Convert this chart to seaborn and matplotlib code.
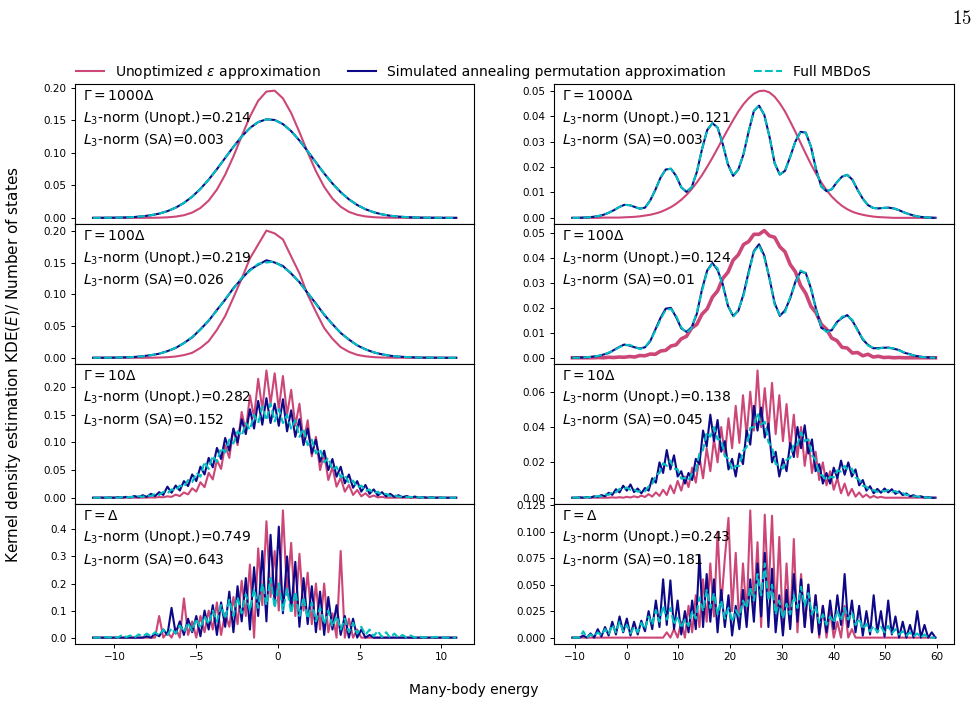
import numpy as np
import matplotlib
matplotlib.use("Agg")
import matplotlib.pyplot as plt
import matplotlib.ticker as mticker
from matplotlib.lines import Line2D
import seaborn as sns

COLOR_UNOPT = "#cc4778"
COLOR_SA = "#0d0887"
COLOR_FULL = "#00bfbf"

# ---------------------------------------------------------------------------
# Energy grids (left: symmetric spectrum, right: shifted spectrum)
# ---------------------------------------------------------------------------
ENERGY_LEFT_COARSE = np.linspace(-11.3, 10.9, 45)
ENERGY_LEFT_FINE = np.linspace(-11.3, 10.9, 89)
ENERGY_RIGHT_COARSE = np.linspace(-10.5, 59.7, 71)
ENERGY_RIGHT_FINE = np.linspace(-10.5, 59.7, 101)

# ---------------------------------------------------------------------------
# Left column, Gamma = 1000 Delta
# ---------------------------------------------------------------------------
unopt_g1000_left = [
    0, 0, 0, 0, 0, 0, 0, 0.0001, 0.0003, 0.0008, 0.0019, 0.0040, 0.0081, 0.0152, 0.0266,
    0.0436, 0.0665, 0.0947, 0.1258, 0.1559, 0.1803, 0.1945, 0.1959, 0.1840, 0.1614,
    0.1320, 0.1008, 0.0718, 0.0477, 0.0296, 0.0171, 0.0092, 0.0047, 0.0022, 0.0010,
    0.0004, 0.0002, 0.0001, 0, 0, 0, 0, 0, 0, 0]
sa_g1000_left = [
    0.0, 0.0001, 0.0002, 0.0004, 0.0007, 0.0013, 0.0024, 0.0040, 0.0065, 0.0103, 0.0157,
    0.0230, 0.0326, 0.0446, 0.0589, 0.0750, 0.0922, 0.1094, 0.1252, 0.1384, 0.1475,
    0.1517, 0.1507, 0.1444, 0.1335, 0.1191, 0.1026, 0.0853, 0.0684, 0.0529, 0.0395,
    0.0285, 0.0198, 0.0133, 0.0086, 0.0054, 0.0032, 0.0019, 0.0011, 0.0006, 0.0003,
    0.0002, 0.0001, 0.0, 0.0]
full_g1000_left = list(sa_g1000_left)  # curves coincide at this broadening

# Left column, Gamma = 100 Delta
unopt_g100_left = [
    0, 0, 0, 0, 0, 0, 0, 0.0001, 0.0004, 0.0009, 0.0020, 0.0042, 0.0078, 0.0155, 0.0262,
    0.0441, 0.0660, 0.0952, 0.1250, 0.1570, 0.1790, 0.2010, 0.1965, 0.1870, 0.1600,
    0.1335, 0.0995, 0.0725, 0.0470, 0.0300, 0.0168, 0.0094, 0.0046, 0.0023, 0.0010,
    0.0004, 0.0002, 0.0001, 0, 0, 0, 0, 0, 0, 0]
sa_g100_left = [
    0.0, 0.0001, 0.0002, 0.0004, 0.0008, 0.0013, 0.0025, 0.0041, 0.0064, 0.0105, 0.0155,
    0.0233, 0.0322, 0.0450, 0.0585, 0.0755, 0.0918, 0.1100, 0.1248, 0.1390, 0.1470,
    0.1540, 0.1505, 0.1450, 0.1330, 0.1195, 0.1022, 0.0857, 0.0680, 0.0532, 0.0392,
    0.0288, 0.0196, 0.0134, 0.0085, 0.0055, 0.0032, 0.0019, 0.0011, 0.0006, 0.0003,
    0.0002, 0.0001, 0.0, 0.0]
full_g100_left = [
    0.0, 0.0001, 0.0002, 0.0004, 0.0007, 0.0014, 0.0023, 0.0041, 0.0066, 0.0101, 0.0160,
    0.0228, 0.0330, 0.0442, 0.0594, 0.0745, 0.0930, 0.1088, 0.1262, 0.1375, 0.1485,
    0.1505, 0.1520, 0.1430, 0.1342, 0.1185, 0.1030, 0.0848, 0.0688, 0.0525, 0.0398,
    0.0282, 0.0200, 0.0131, 0.0087, 0.0053, 0.0033, 0.0018, 0.0011, 0.0006, 0.0003,
    0.0002, 0.0001, 0.0, 0.0]

# Left column, Gamma = 10 Delta
unopt_g10_left = [
    0, 0, 0, 0, 0, 0, 0, 0, 0, 0, 0, 0, 0,
    0.0002, 0.0005, 0.0003, 0.0012, 0.0008, 0.0025, 0.0015, 0.0055, 0.0030, 0.0095,
    0.0060, 0.0170, 0.0110, 0.0280, 0.0190, 0.0450, 0.0330, 0.0680, 0.0520, 0.0950,
    0.0720, 0.1250, 0.0950, 0.1550, 0.1200, 0.1850, 0.1450, 0.2150, 0.1600, 0.2300,
    0.1700, 0.2250, 0.1600, 0.2200, 0.1500, 0.1950, 0.1300, 0.1700, 0.1000, 0.1400,
    0.0750, 0.1100, 0.0500, 0.0800, 0.0320, 0.0550, 0.0200, 0.0360, 0.0110, 0.0230,
    0.0050, 0.0140, 0.0025, 0.0080, 0.0010, 0.0040, 0.0005, 0.0015,
    0, 0, 0, 0, 0, 0, 0, 0, 0, 0, 0, 0, 0, 0, 0, 0, 0, 0]
sa_g10_left = [
    0.0, 0.0, 0.0002, 0.0, 0.0005, 0.0, 0.0010, 0.0002, 0.0015, 0.0005, 0.0030, 0.0008,
    0.0045, 0.0015, 0.0070, 0.0030, 0.0100, 0.0050, 0.0200, 0.0090, 0.0220, 0.0130,
    0.0300, 0.0210, 0.0420, 0.0300, 0.0560, 0.0420, 0.0720, 0.0550, 0.0900, 0.0700,
    0.1080, 0.0850, 0.1250, 0.1000, 0.1420, 0.1150, 0.1600, 0.1250, 0.1750, 0.1320,
    0.1800, 0.1350, 0.1700, 0.1300, 0.1780, 0.1200, 0.1580, 0.1100, 0.1420, 0.0950,
    0.1250, 0.0800, 0.1050, 0.0650, 0.0850, 0.0500, 0.0700, 0.0380, 0.0560, 0.0260,
    0.0420, 0.0180, 0.0300, 0.0110, 0.0230, 0.0070, 0.0150, 0.0040, 0.0100, 0.0025,
    0.0070, 0.0015, 0.0045, 0.0010, 0.0030, 0.0005, 0.0020, 0.0002, 0.0010, 0.0,
    0.0008, 0.0, 0.0004, 0.0, 0.0, 0.0, 0.0]
full_g10_left = [
    0.0, 0.0, 0.0, 0.0003, 0.0, 0.0005, 0.0002, 0.0008, 0.0004, 0.0015, 0.0008, 0.0028,
    0.0015, 0.0045, 0.0030, 0.0070, 0.0050, 0.0105, 0.0080, 0.0150, 0.0130, 0.0220,
    0.0190, 0.0320, 0.0280, 0.0450, 0.0380, 0.0650, 0.0520, 0.0760, 0.0650, 0.0900,
    0.0820, 0.1050, 0.0980, 0.1200, 0.1120, 0.1350, 0.1230, 0.1500, 0.1350, 0.1650,
    0.1400, 0.1700, 0.1380, 0.1600, 0.1350, 0.1500, 0.1250, 0.1400, 0.1100, 0.1250,
    0.0950, 0.1050, 0.0800, 0.0880, 0.0640, 0.0720, 0.0500, 0.0560, 0.0370, 0.0420,
    0.0260, 0.0310, 0.0180, 0.0220, 0.0120, 0.0150, 0.0080, 0.0110, 0.0050, 0.0070,
    0.0030, 0.0045, 0.0018, 0.0025, 0.0010, 0.0014, 0.0006, 0.0008, 0.0003, 0.0004,
    0.0002, 0.0, 0.0001, 0.0, 0.0, 0.0, 0.0]

# Left column, Gamma = Delta
unopt_g1_left = [
    0, 0, 0, 0, 0, 0, 0, 0, 0, 0, 0, 0, 0, 0, 0,
    0.0, 0.0800, 0.0, 0.0200, 0.0, 0.0350, 0.0, 0.1450, 0.0100, 0.0600, 0.0, 0.0800,
    0.0200, 0.1000, 0.0300, 0.1300, 0.0100, 0.0900, 0.0400, 0.1500, 0.0500, 0.2100,
    0.0800, 0.2700, 0.0, 0.3300, 0.1200, 0.4300, 0.1500, 0.3200, 0.1000, 0.4700,
    0.1600, 0.3500, 0.0800, 0.3100, 0.1000, 0.2400, 0.0500, 0.2000, 0.0300, 0.2000,
    0.0200, 0.0900, 0.0, 0.3200, 0.0, 0.0700, 0.0, 0.0300,
    0, 0, 0, 0, 0, 0, 0, 0, 0, 0, 0, 0, 0, 0, 0, 0, 0, 0, 0, 0, 0, 0, 0, 0]
sa_g1_left = [
    0, 0, 0, 0, 0, 0, 0, 0, 0, 0, 0, 0,
    0.0, 0.0050, 0.0, 0.0150, 0.0050, 0.0300, 0.0100, 0.1100, 0.0150, 0.0600, 0.0100,
    0.0700, 0.0200, 0.0800, 0.0050, 0.1000, 0.0300, 0.1200, 0.0100, 0.1300, 0.0400,
    0.1700, 0.0200, 0.1900, 0.0600, 0.2200, 0.0300, 0.2600, 0.0800, 0.3200, 0.0600,
    0.3800, 0.1200, 0.4100, 0.0900, 0.3000, 0.1000, 0.2800, 0.0400, 0.2200, 0.0500,
    0.1900, 0.0200, 0.1700, 0.0100, 0.1500, 0.0300, 0.1200, 0.0100, 0.0800, 0.0,
    0.0700, 0.0, 0.0300, 0.0, 0.0100,
    0, 0, 0, 0, 0, 0, 0, 0, 0, 0, 0, 0, 0, 0, 0, 0, 0, 0, 0, 0, 0]
full_g1_left = [
    0.0, 0.0, 0.0, 0.0020, 0.0, 0.0050, 0.0, 0.0100, 0.0020, 0.0080, 0.0, 0.0120,
    0.0040, 0.0150, 0.0050, 0.0200, 0.0080, 0.0300, 0.0100, 0.0350, 0.0150, 0.0450,
    0.0200, 0.0550, 0.0250, 0.0700, 0.0350, 0.0800, 0.0500, 0.1000, 0.0600, 0.1200,
    0.0700, 0.1400, 0.0800, 0.1500, 0.0900, 0.1600, 0.1000, 0.1800, 0.1100, 0.2000,
    0.1200, 0.2200, 0.1100, 0.2000, 0.1000, 0.1800, 0.0900, 0.1700, 0.0800, 0.1500,
    0.0700, 0.1300, 0.0600, 0.1100, 0.0500, 0.1000, 0.0400, 0.0800, 0.0300, 0.0700,
    0.0200, 0.0550, 0.0150, 0.0400, 0.0100, 0.0300, 0.0050, 0.0250, 0.0020, 0.0200,
    0.0, 0.0150, 0.0, 0.0100, 0.0, 0.0080, 0.0, 0.0050, 0.0, 0.0020, 0.0, 0.0030,
    0.0, 0.0, 0.0, 0.0, 0.0]

# ---------------------------------------------------------------------------
# Right column, Gamma = 1000 Delta
# ---------------------------------------------------------------------------
unopt_g1000_right = [
    0.0, 0.0, 0.0, 0.0, 0.0, 0.0, 0.0001, 0.0001, 0.0001, 0.0001,
    0.0002, 0.0003, 0.0004, 0.0006, 0.0009, 0.0012, 0.0017, 0.0023, 0.0032, 0.0042,
    0.0055, 0.0071, 0.0090, 0.0113, 0.0139, 0.0168, 0.0201, 0.0236, 0.0273, 0.0311,
    0.0348, 0.0384, 0.0418, 0.0447, 0.0470, 0.0488, 0.0498, 0.0500, 0.0493, 0.0476,
    0.0450, 0.0418, 0.0379, 0.0338, 0.0295, 0.0252, 0.0211, 0.0173, 0.0139, 0.0109,
    0.0084, 0.0064, 0.0047, 0.0034, 0.0024, 0.0017, 0.0012, 0.0008, 0.0005, 0.0003,
    0.0002, 0.0001, 0, 0, 0, 0, 0, 0, 0, 0, 0]
sa_g1000_right = [
    0.0000, 0.0000, 0.0001, 0.0002, 0.0004, 0.0007, 0.0012, 0.0020, 0.0030, 0.0042,
    0.0051, 0.0050, 0.0043, 0.0036, 0.0040, 0.0068, 0.0110, 0.0158, 0.0190, 0.0193,
    0.0165, 0.0120, 0.0102, 0.0120, 0.0180, 0.0270, 0.0345, 0.0372, 0.0355, 0.0290,
    0.0210, 0.0165, 0.0190, 0.0250, 0.0340, 0.0420, 0.0441, 0.0405, 0.0320, 0.0215,
    0.0170, 0.0185, 0.0240, 0.0300, 0.0338, 0.0335, 0.0280, 0.0190, 0.0123, 0.0105,
    0.0112, 0.0140, 0.0162, 0.0169, 0.0150, 0.0110, 0.0075, 0.0050, 0.0039, 0.0037,
    0.0039, 0.0040, 0.0037, 0.0030, 0.0021, 0.0014, 0.0008, 0.0004, 0.0002, 0.0001,
    0.0000]
full_g1000_right = list(sa_g1000_right)

# Right column, Gamma = 100 Delta
unopt_g100_right = [
    0, 0, 0, 0, 0, 0.0001, 0.0, 0.0002, 0.0001, 0.0003,
    0.0002, 0.0005, 0.0003, 0.0009, 0.0008, 0.0015, 0.0014, 0.0027, 0.0030, 0.0047,
    0.0052, 0.0076, 0.0086, 0.0119, 0.0134, 0.0175, 0.0196, 0.0243, 0.0268, 0.0318,
    0.0343, 0.0391, 0.0413, 0.0454, 0.0466, 0.0495, 0.0495, 0.0510, 0.0489, 0.0483,
    0.0445, 0.0425, 0.0374, 0.0345, 0.0290, 0.0258, 0.0206, 0.0180, 0.0134, 0.0115,
    0.0079, 0.0069, 0.0042, 0.0039, 0.0019, 0.0021, 0.0008, 0.0014, 0.0003, 0.0006,
    0.0001, 0.0002, 0, 0.0001, 0, 0, 0, 0, 0, 0, 0]
sa_g100_right = [
    0.0000, 0.0001, 0.0001, 0.0002, 0.0005, 0.0007, 0.0013, 0.0019, 0.0031, 0.0043,
    0.0053, 0.0049, 0.0042, 0.0037, 0.0042, 0.0066, 0.0113, 0.0160, 0.0197, 0.0200,
    0.0163, 0.0118, 0.0104, 0.0122, 0.0176, 0.0275, 0.0350, 0.0380, 0.0352, 0.0295,
    0.0208, 0.0168, 0.0188, 0.0255, 0.0345, 0.0428, 0.0455, 0.0410, 0.0318, 0.0220,
    0.0168, 0.0190, 0.0238, 0.0305, 0.0345, 0.0340, 0.0278, 0.0195, 0.0120, 0.0108,
    0.0110, 0.0143, 0.0160, 0.0171, 0.0148, 0.0112, 0.0073, 0.0052, 0.0038, 0.0039,
    0.0040, 0.0041, 0.0036, 0.0031, 0.0020, 0.0015, 0.0008, 0.0005, 0.0002, 0.0001,
    0.0000]
full_g100_right = [
    0.0000, 0.0000, 0.0001, 0.0003, 0.0004, 0.0008, 0.0012, 0.0021, 0.0029, 0.0042,
    0.0050, 0.0052, 0.0044, 0.0035, 0.0041, 0.0070, 0.0108, 0.0155, 0.0192, 0.0196,
    0.0168, 0.0122, 0.0100, 0.0119, 0.0183, 0.0268, 0.0348, 0.0378, 0.0358, 0.0288,
    0.0212, 0.0163, 0.0193, 0.0248, 0.0338, 0.0425, 0.0450, 0.0402, 0.0322, 0.0213,
    0.0172, 0.0183, 0.0243, 0.0298, 0.0350, 0.0338, 0.0283, 0.0188, 0.0125, 0.0103,
    0.0114, 0.0138, 0.0165, 0.0168, 0.0152, 0.0108, 0.0077, 0.0049, 0.0040, 0.0036,
    0.0041, 0.0039, 0.0038, 0.0029, 0.0022, 0.0013, 0.0009, 0.0004, 0.0002, 0.0001,
    0.0000]

# Right column, Gamma = 10 Delta
unopt_g10_right = [
    0, 0, 0, 0, 0, 0, 0, 0, 0, 0, 0,
    0.0002, 0.0, 0.0003, 0.0, 0.0005, 0.0001, 0.0008, 0.0002, 0.0012, 0.0004, 0.0020,
    0.0006, 0.0030, 0.0010, 0.0045, 0.0015, 0.0070, 0.0025, 0.0095, 0.0040, 0.0120,
    0.0060, 0.0170, 0.0085, 0.0230, 0.0110, 0.0280, 0.0150, 0.0330, 0.0200, 0.0400,
    0.0240, 0.0450, 0.0280, 0.0520, 0.0310, 0.0580, 0.0350, 0.0600, 0.0380, 0.0720,
    0.0400, 0.0620, 0.0380, 0.0650, 0.0360, 0.0580, 0.0320, 0.0530, 0.0280, 0.0470,
    0.0230, 0.0400, 0.0180, 0.0330, 0.0140, 0.0260, 0.0100, 0.0200, 0.0070, 0.0150,
    0.0045, 0.0110, 0.0025, 0.0080, 0.0012, 0.0050, 0.0006, 0.0030, 0.0003, 0.0018,
    0.0, 0.0010, 0.0, 0.0005,
    0, 0, 0, 0, 0, 0, 0, 0, 0, 0, 0, 0, 0, 0, 0]
sa_g10_right = [
    0.0, 0.0, 0.0002, 0.0, 0.0004, 0.0001, 0.0008, 0.0004, 0.0015, 0.0008, 0.0028,
    0.0016, 0.0048, 0.0030, 0.0068, 0.0040, 0.0075, 0.0032, 0.0052, 0.0025, 0.0055,
    0.0040, 0.0110, 0.0085, 0.0200, 0.0140, 0.0270, 0.0160, 0.0240, 0.0120, 0.0150,
    0.0080, 0.0140, 0.0100, 0.0220, 0.0190, 0.0380, 0.0290, 0.0470, 0.0320, 0.0440,
    0.0260, 0.0320, 0.0160, 0.0220, 0.0120, 0.0250, 0.0190, 0.0380, 0.0300, 0.0520,
    0.0380, 0.0510, 0.0340, 0.0420, 0.0200, 0.0260, 0.0120, 0.0220, 0.0150, 0.0310,
    0.0230, 0.0400, 0.0280, 0.0410, 0.0250, 0.0330, 0.0150, 0.0190, 0.0080, 0.0140,
    0.0080, 0.0170, 0.0110, 0.0210, 0.0130, 0.0200, 0.0120, 0.0160, 0.0070, 0.0100,
    0.0040, 0.0065, 0.0025, 0.0050, 0.0028, 0.0052, 0.0030, 0.0048, 0.0022, 0.0036,
    0.0015, 0.0024, 0.0008, 0.0014, 0.0004, 0.0008, 0.0001, 0.0003, 0.0, 0.0]
full_g10_right = [
    0.0, 0.0001, 0.0, 0.0002, 0.0002, 0.0004, 0.0004, 0.0009, 0.0008, 0.0018, 0.0016,
    0.0032, 0.0030, 0.0050, 0.0046, 0.0058, 0.0044, 0.0048, 0.0034, 0.0040, 0.0036,
    0.0064, 0.0078, 0.0128, 0.0140, 0.0195, 0.0180, 0.0210, 0.0165, 0.0160, 0.0108,
    0.0112, 0.0098, 0.0138, 0.0150, 0.0250, 0.0270, 0.0370, 0.0345, 0.0400, 0.0330,
    0.0330, 0.0235, 0.0220, 0.0155, 0.0180, 0.0180, 0.0265, 0.0285, 0.0395, 0.0400,
    0.0480, 0.0415, 0.0430, 0.0315, 0.0285, 0.0190, 0.0185, 0.0165, 0.0215, 0.0225,
    0.0305, 0.0300, 0.0370, 0.0320, 0.0330, 0.0240, 0.0215, 0.0130, 0.0125, 0.0098,
    0.0118, 0.0115, 0.0155, 0.0148, 0.0180, 0.0155, 0.0165, 0.0115, 0.0102, 0.0068,
    0.0062, 0.0040, 0.0043, 0.0033, 0.0042, 0.0035, 0.0044, 0.0034, 0.0037, 0.0026,
    0.0026, 0.0016, 0.0014, 0.0008, 0.0007, 0.0003, 0.0002, 0.0001, 0.0, 0.0]

# Right column, Gamma = Delta
unopt_g1_right = [
    0, 0, 0, 0, 0, 0, 0, 0, 0, 0, 0, 0, 0, 0, 0, 0, 0, 0, 0, 0, 0, 0, 0, 0, 0,
    0.0, 0.0050, 0.0, 0.0080, 0.0, 0.0150, 0.0, 0.0300, 0.0050, 0.0400, 0.0100,
    0.0550, 0.0150, 0.0700, 0.0200, 0.1000, 0.0300, 0.0750, 0.1130, 0.0250, 0.0800,
    0.0100, 0.0700, 0.0200, 0.1200, 0.0300, 0.0900, 0.0100, 0.1160, 0.0400, 0.1150,
    0.0200, 0.0950, 0.0050, 0.0700, 0.0100, 0.0930, 0.0050, 0.0600, 0.0100, 0.0500,
    0.0050, 0.0400, 0.0, 0.0300, 0.0, 0.0250, 0.0, 0.0150, 0.0, 0.0300, 0.0, 0.0080,
    0, 0, 0, 0, 0, 0, 0, 0, 0, 0, 0, 0, 0, 0, 0, 0, 0, 0, 0, 0, 0, 0, 0]
sa_g1_right = [
    0.0, 0.0, 0.0, 0.0020, 0.0, 0.0040, 0.0, 0.0080, 0.0010, 0.0100, 0.0020, 0.0150,
    0.0030, 0.0200, 0.0050, 0.0180, 0.0020, 0.0150, 0.0030, 0.0160, 0.0060, 0.0250,
    0.0080, 0.0350, 0.0100, 0.0550, 0.0120, 0.0540, 0.0080, 0.0350, 0.0030, 0.0250,
    0.0050, 0.0350, 0.0080, 0.0780, 0.0100, 0.0600, 0.0150, 0.0550, 0.0050, 0.0450,
    0.0100, 0.0400, 0.0020, 0.0300, 0.0080, 0.0450, 0.0100, 0.0550, 0.0150, 0.0700,
    0.0200, 0.0800, 0.0100, 0.0650, 0.0050, 0.0400, 0.0020, 0.0450, 0.0080, 0.0600,
    0.0150, 0.0550, 0.0100, 0.0500, 0.0050, 0.0400, 0.0030, 0.0300, 0.0050, 0.0350,
    0.0080, 0.0400, 0.0120, 0.0600, 0.0100, 0.0350, 0.0050, 0.0300, 0.0020, 0.0250,
    0.0030, 0.0400, 0.0050, 0.0250, 0.0010, 0.0350, 0.0030, 0.0200, 0.0, 0.0150,
    0.0, 0.0120, 0.0, 0.0250, 0.0, 0.0120, 0.0, 0.0050, 0.0]
full_g1_right = [
    0.0, 0.0, 0.0, 0.0060, 0.0, 0.0030, 0.0010, 0.0050, 0.0020, 0.0080, 0.0030, 0.0120,
    0.0050, 0.0150, 0.0060, 0.0120, 0.0040, 0.0100, 0.0050, 0.0140, 0.0080, 0.0200,
    0.0120, 0.0260, 0.0150, 0.0300, 0.0170, 0.0280, 0.0120, 0.0200, 0.0090, 0.0170,
    0.0110, 0.0250, 0.0180, 0.0380, 0.0250, 0.0450, 0.0280, 0.0420, 0.0220, 0.0350,
    0.0180, 0.0280, 0.0150, 0.0260, 0.0200, 0.0350, 0.0280, 0.0480, 0.0350, 0.0600,
    0.0400, 0.0700, 0.0350, 0.0500, 0.0220, 0.0350, 0.0180, 0.0320, 0.0220, 0.0400,
    0.0280, 0.0480, 0.0300, 0.0420, 0.0220, 0.0300, 0.0140, 0.0220, 0.0120, 0.0200,
    0.0140, 0.0250, 0.0160, 0.0280, 0.0170, 0.0240, 0.0120, 0.0180, 0.0080, 0.0130,
    0.0060, 0.0110, 0.0050, 0.0100, 0.0050, 0.0110, 0.0040, 0.0080, 0.0030, 0.0060,
    0.0020, 0.0050, 0.0010, 0.0040, 0.0, 0.0030, 0.0, 0.0, 0.0]

# ---------------------------------------------------------------------------
# Annotation text per row and y tick spacing per panel
# ---------------------------------------------------------------------------
gamma_labels = [r"$\Gamma = 1000\Delta$", r"$\Gamma = 100\Delta$",
                r"$\Gamma = 10\Delta$", r"$\Gamma = \Delta$"]
l3_unopt_left = ["0.214", "0.219", "0.282", "0.749"]
l3_sa_left = ["0.003", "0.026", "0.152", "0.643"]
l3_unopt_right = ["0.121", "0.124", "0.138", "0.243"]
l3_sa_right = ["0.003", "0.01", "0.045", "0.181"]
ytick_step_left = [0.05, 0.05, 0.05, 0.1]
ytick_step_right = [0.01, 0.01, 0.02, 0.025]

series_labels = ["Unoptimized $\\varepsilon$ approximation",
                 "Simulated annealing permutation approximation",
                 "Full MBDoS"]

panels = {
    (0, 0): (ENERGY_LEFT_COARSE, unopt_g1000_left, sa_g1000_left, full_g1000_left),
    (1, 0): (ENERGY_LEFT_COARSE, unopt_g100_left, sa_g100_left, full_g100_left),
    (2, 0): (ENERGY_LEFT_FINE, unopt_g10_left, sa_g10_left, full_g10_left),
    (3, 0): (ENERGY_LEFT_FINE, unopt_g1_left, sa_g1_left, full_g1_left),
    (0, 1): (ENERGY_RIGHT_COARSE, unopt_g1000_right, sa_g1000_right, full_g1000_right),
    (1, 1): (ENERGY_RIGHT_COARSE, unopt_g100_right, sa_g100_right, full_g100_right),
    (2, 1): (ENERGY_RIGHT_FINE, unopt_g10_right, sa_g10_right, full_g10_right),
    (3, 1): (ENERGY_RIGHT_FINE, unopt_g1_right, sa_g1_right, full_g1_right),
}

# ---------------------------------------------------------------------------
# Figure
# ---------------------------------------------------------------------------
plt.rcParams["font.family"] = "DejaVu Sans"

fig, axes = plt.subplots(4, 2, figsize=(9.78, 7.24), dpi=100, sharex="col")
fig.subplots_adjust(left=0.0767, right=0.975, top=0.8836, bottom=0.1105,
                    hspace=0.0, wspace=0.2)

for (row, col), (energy, unopt, sa, full) in panels.items():
    ax = axes[row, col]
    # the dense sampling noise of the Gamma=100 shifted spectrum reads as a thick band
    unopt_lw = 2.6 if (row, col) == (1, 1) else 1.5
    sns.lineplot(x=energy, y=unopt, ax=ax, color=COLOR_UNOPT, lw=unopt_lw,
                 estimator=None, sort=False)
    sns.lineplot(x=energy, y=sa, ax=ax, color=COLOR_SA, lw=1.5,
                 estimator=None, sort=False)
    sns.lineplot(x=energy, y=full, ax=ax, color=COLOR_FULL, lw=1.5, linestyle="--",
                 estimator=None, sort=False)

    step = ytick_step_left[row] if col == 0 else ytick_step_right[row]
    ax.yaxis.set_major_locator(mticker.MultipleLocator(step))
    ax.tick_params(labelsize=7.5, length=2.6, width=0.7)

    l3u = l3_unopt_left[row] if col == 0 else l3_unopt_right[row]
    l3s = l3_sa_left[row] if col == 0 else l3_sa_right[row]
    note = "\n".join([gamma_labels[row],
                      f"$L_3$-norm (Unopt.)={l3u}",
                      f"$L_3$-norm (SA)={l3s}"])
    ax.text(0.02, 0.965, note, transform=ax.transAxes, ha="left", va="top",
            fontsize=10, linespacing=1.42)

handles = [Line2D([], [], color=COLOR_UNOPT, lw=1.5),
           Line2D([], [], color=COLOR_SA, lw=1.5),
           Line2D([], [], color=COLOR_FULL, lw=1.5, linestyle="--")]
fig.legend(handles, series_labels, loc="center", ncol=3, frameon=False,
           bbox_to_anchor=(0.484, 0.9006), fontsize=10, columnspacing=2.0)

fig.text(0.014, 0.497, "Kernel density estimation KDE($E$)/ Number of states",
         rotation=90, ha="center", va="center", fontsize=11)
fig.text(0.484, 0.047, "Many-body energy", ha="center", va="center", fontsize=10)
fig.text(0.994, 0.988, r"$15$", ha="right", va="top", fontsize=13.5,
         math_fontfamily="cm")

fig.savefig("out.png", dpi=100)
